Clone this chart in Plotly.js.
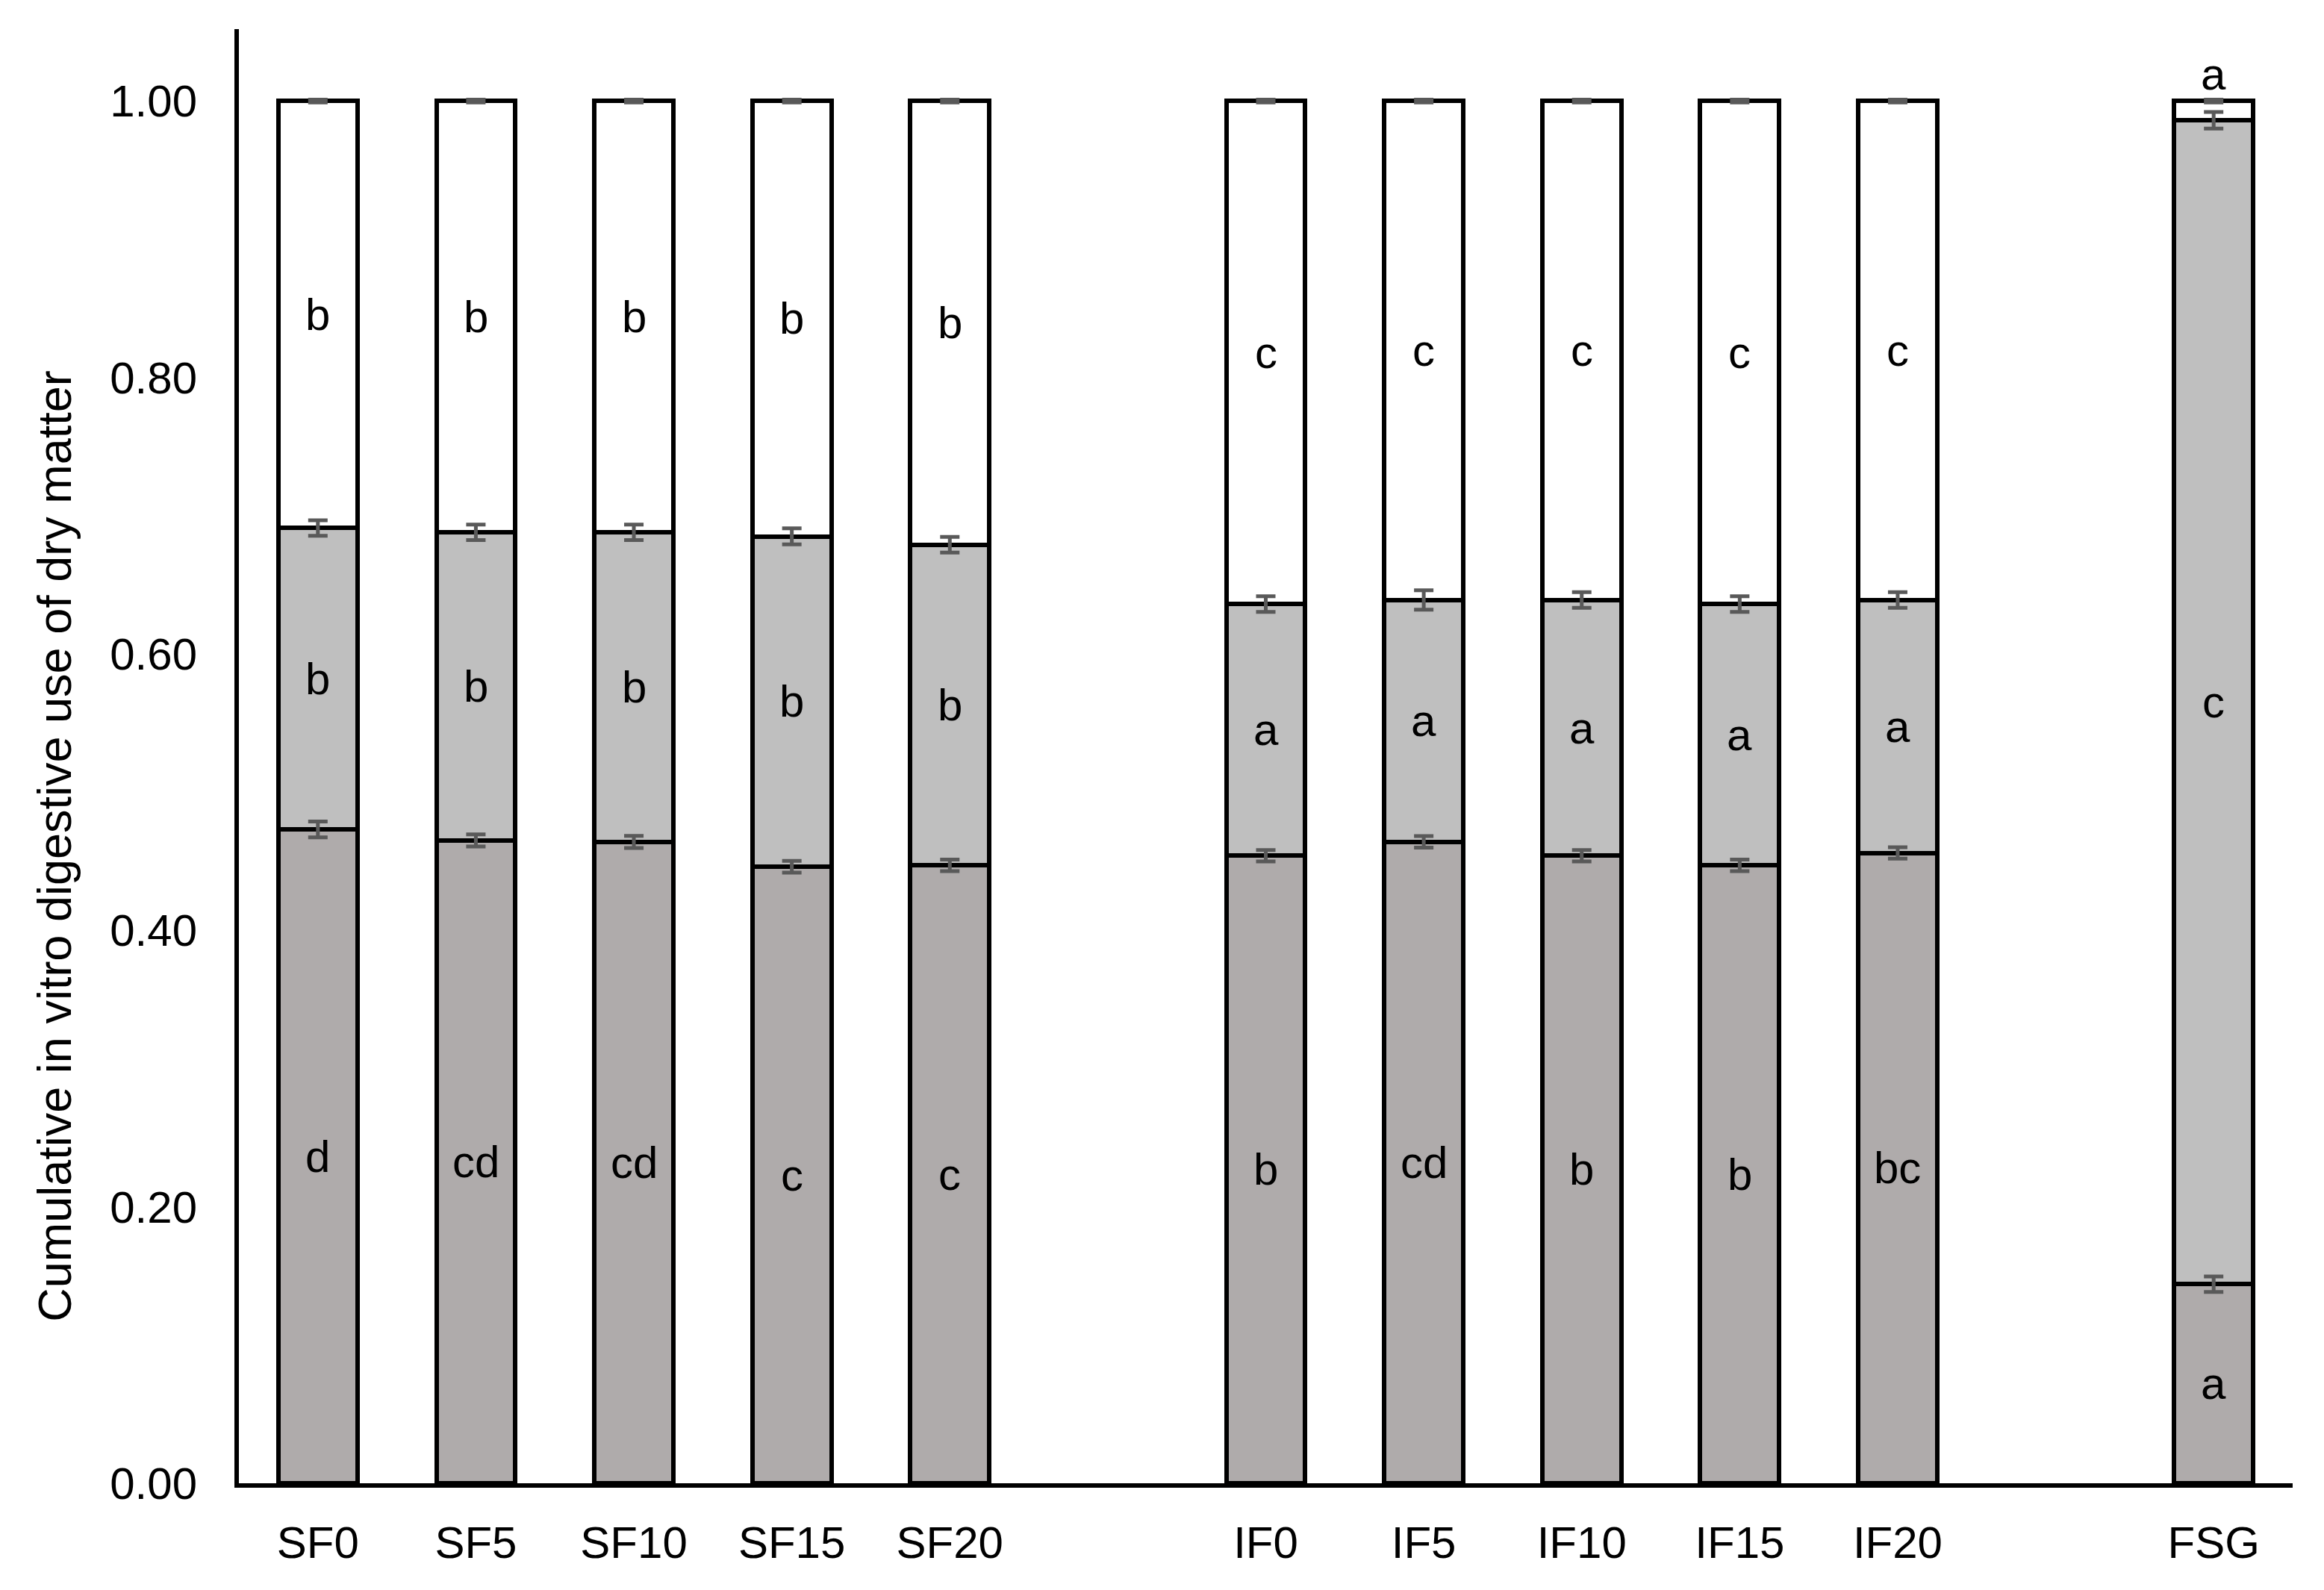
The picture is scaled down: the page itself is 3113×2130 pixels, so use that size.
<!DOCTYPE html>
<html>
<head>
<meta charset="utf-8">
<script src="https://cdn.plot.ly/plotly-3.0.1.min.js"></script>
<style>
  html, body { margin: 0; padding: 0; background: #fff; }
  #chart { width: 3113px; height: 2130px; }
</style>
</head>
<body>
<div id="chart"></div>
<script>
// treatments, with two empty slots that separate the groups on the axis
const categories = ["SF0", "SF5", "SF10", "SF15", "SF20", "IF0", "IF5", "IF10", "IF15", "IF20", "FSG"];
const axisOrder = ["SF0", "SF5", "SF10", "SF15", "SF20", " ", "IF0", "IF5", "IF10", "IF15", "IF20", "  ", "FSG"];

// fraction of dry matter in each stacked segment (bottom, middle, top)
const fastFrac = [0.473, 0.465, 0.464, 0.446, 0.447, 0.454, 0.464, 0.454, 0.447, 0.456, 0.144];
const midFrac  = [0.218, 0.223, 0.224, 0.239, 0.232, 0.182, 0.175, 0.185, 0.189, 0.183, 0.842];
const slowFrac = [0.309, 0.312, 0.312, 0.315, 0.321, 0.364, 0.361, 0.361, 0.364, 0.361, 0.014];

// error (+/-) at the top of each segment
const fastErr = [0.0057, 0.0044, 0.0044, 0.0042, 0.0042, 0.0041, 0.0042, 0.0041, 0.0042, 0.0041, 0.0056];
const midErr  = [0.0056, 0.0056, 0.0056, 0.0058, 0.0057, 0.0057, 0.0070, 0.0057, 0.0057, 0.0057, 0.0060];
const slowErr = [0.001, 0.001, 0.001, 0.001, 0.001, 0.001, 0.001, 0.001, 0.001, 0.001, 0.001];

// significance letters
const fastLetters = ["d", "cd", "cd", "c", "c", "b", "cd", "b", "b", "bc", "a"];
const midLetters  = ["b", "b", "b", "b", "b", "a", "a", "a", "a", "a", "c"];
const slowLetters = ["b", "b", "b", "b", "b", "c", "c", "c", "c", "c", "a"];

const FONT = "Liberation Sans, Arial, sans-serif";
const segments = [
  { vals: fastFrac, err: fastErr, letters: fastLetters, color: "#AFABAB" },
  { vals: midFrac,  err: midErr,  letters: midLetters,  color: "#BFBFBF" },
  { vals: slowFrac, err: slowErr, letters: slowLetters, color: "#FFFFFF" },
];

const data = [];
const errTraces = [];
const annotations = [];
let base = categories.map(() => 0);

segments.forEach((seg, k) => {
  data.push({
    type: "bar",
    x: categories,
    y: seg.vals,
    width: 0.5,
    marker: { color: seg.color, line: { color: "#000000", width: 6 } },
    hoverinfo: "x+y",
    showlegend: false,
  });

  const tops = seg.vals.map((v, i) => base[i] + v);

  // error bars go on a scatter layer so the next segment does not hide them
  errTraces.push({
    type: "scatter",
    mode: "none",
    x: categories,
    y: tops,
    error_y: { type: "data", array: seg.err, visible: true, color: "#595959", thickness: 5, width: 13 },
    showlegend: false,
    hoverinfo: "skip",
  });

  seg.vals.forEach((v, i) => {
    const small = v < 0.05;
    annotations.push({
      x: categories[i],
      y: small ? tops[i] : base[i] + v / 2,
      xref: "x",
      yref: "y",
      text: seg.letters[i],
      showarrow: false,
      yanchor: small ? "bottom" : "middle",
      font: { family: FONT, size: 60, color: "#000000" },
    });
  });

  base = tops;
});

// y axis title, drawn as a rotated note so it can sit a little low like the original
annotations.push({
  text: "Cumulative in vitro digestive use of dry matter",
  xref: "paper",
  yref: "paper",
  x: 0,
  y: 0.438,
  xshift: -247,
  xanchor: "center",
  yanchor: "middle",
  textangle: -90,
  showarrow: false,
  font: { family: FONT, size: 63, color: "#000000" },
});

const layout = {
  width: 3113,
  height: 2130,
  margin: { l: 320, r: 42, t: 39, b: 143 },
  paper_bgcolor: "#ffffff",
  plot_bgcolor: "#ffffff",
  barmode: "stack",
  showlegend: false,
  font: { family: FONT, size: 60, color: "#000000" },
  xaxis: {
    type: "category",
    categoryorder: "array",
    categoryarray: axisOrder,
    range: [-0.5, 12.5],
    showline: true,
    linecolor: "#000000",
    linewidth: 6,
    ticks: "",
    showgrid: false,
    zeroline: false,
    ticklabelstandoff: 22,
    tickfont: { family: FONT, size: 60, color: "#000000" },
  },
  yaxis: {
    range: [0, 1.052],
    tickvals: [0, 0.2, 0.4, 0.6, 0.8, 1.0],
    tickformat: ".2f",
    showline: true,
    linecolor: "#000000",
    linewidth: 6,
    ticks: "",
    showgrid: false,
    zeroline: false,
    ticklabelstandoff: 38,
    tickfont: { family: FONT, size: 60, color: "#000000" },
  },
  annotations: annotations,
};

Plotly.newPlot("chart", data.concat(errTraces), layout, { displayModeBar: false, staticPlot: true });
</script>
</body>
</html>
